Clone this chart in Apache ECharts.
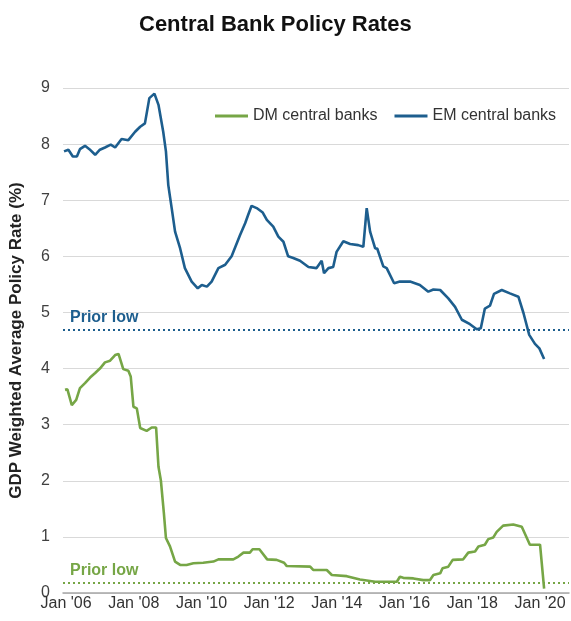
<!DOCTYPE html>
<html>
<head>
<meta charset="utf-8">
<script src="https://cdn.jsdelivr.net/npm/echarts@6/dist/echarts.min.js"></script>
<style>
html,body{margin:0;padding:0;background:#fff;}
#chart{width:571px;height:621px;}
</style>
</head>
<body>
<div id="chart"></div>
<script>
// Decimal-year positions and values
const emX = [2005.94,2006.07,2006.20,2006.32,2006.41,2006.56,2006.69,2006.86,2007.00,2007.15,2007.32,2007.45,2007.64,2007.84,2008.04,2008.19,2008.33,2008.46,2008.61,2008.73,2008.87,2008.95,2009.02,2009.12,2009.22,2009.37,2009.51,2009.71,2009.89,2010.01,2010.16,2010.30,2010.50,2010.70,2010.89,2011.14,2011.29,2011.38,2011.48,2011.63,2011.81,2011.93,2012.12,2012.27,2012.42,2012.56,2012.71,2012.91,2013.16,2013.40,2013.55,2013.62,2013.75,2013.89,2013.99,2014.19,2014.39,2014.63,2014.78,2014.88,2014.98,2015.13,2015.19,2015.37,2015.47,2015.69,2015.86,2016.16,2016.45,2016.70,2016.85,2017.05,2017.29,2017.49,2017.69,2017.93,2018.13,2018.25,2018.37,2018.52,2018.64,2018.87,2019.11,2019.36,2019.51,2019.68,2019.85,2019.98,2020.12];
const emY = [7.87,7.90,7.78,7.78,7.91,7.97,7.91,7.81,7.90,7.94,7.99,7.94,8.09,8.07,8.22,8.31,8.37,8.82,8.90,8.70,8.22,7.87,7.27,6.86,6.44,6.14,5.79,5.55,5.43,5.49,5.46,5.55,5.79,5.85,6.00,6.38,6.59,6.74,6.90,6.86,6.78,6.65,6.53,6.35,6.26,6.00,5.97,5.92,5.81,5.79,5.92,5.70,5.79,5.81,6.08,6.27,6.22,6.20,6.17,6.86,6.44,6.14,6.14,5.82,5.79,5.52,5.55,5.55,5.49,5.37,5.41,5.40,5.25,5.10,4.87,4.79,4.70,4.72,5.07,5.12,5.33,5.40,5.34,5.28,4.99,4.60,4.44,4.36,4.17];

const dmX = [2005.97,2006.04,2006.17,2006.30,2006.41,2006.56,2006.71,2006.86,2007.00,2007.15,2007.30,2007.45,2007.55,2007.69,2007.84,2007.91,2007.99,2008.09,2008.19,2008.38,2008.53,2008.66,2008.73,2008.80,2008.89,2008.95,2009.07,2009.22,2009.37,2009.56,2009.76,2010.05,2010.35,2010.50,2010.94,2011.09,2011.24,2011.43,2011.51,2011.71,2011.94,2012.22,2012.44,2012.52,2013.21,2013.30,2013.70,2013.85,2014.29,2014.68,2015.13,2015.77,2015.86,2015.96,2016.26,2016.55,2016.75,2016.85,2017.05,2017.12,2017.29,2017.42,2017.73,2017.88,2018.08,2018.18,2018.37,2018.47,2018.62,2018.72,2018.91,2019.21,2019.46,2019.70,2020.00,2020.05,2020.12];
const dmY = [3.62,3.63,3.35,3.44,3.65,3.74,3.84,3.92,4.00,4.11,4.14,4.24,4.26,3.99,3.96,3.86,3.32,3.29,2.94,2.89,2.95,2.95,2.25,2.01,1.42,0.98,0.83,0.56,0.50,0.50,0.53,0.54,0.56,0.60,0.60,0.65,0.72,0.72,0.78,0.78,0.60,0.59,0.54,0.48,0.47,0.41,0.41,0.32,0.30,0.24,0.20,0.20,0.29,0.27,0.26,0.23,0.23,0.32,0.35,0.44,0.47,0.59,0.60,0.72,0.74,0.83,0.86,0.96,0.99,1.09,1.20,1.22,1.18,0.86,0.86,0.83,0.08];

const priorLowEM = 4.70;
const priorLowDM = 0.18;
const xTickYears = [2006,2008,2010,2012,2014,2016,2018,2020];
const yTicks = [0,1,2,3,4,5,6,7,8,9];

const DM_COLOR = '#76a646';
const EM_COLOR = '#1d5e8e';
const FONT = "'Liberation Sans', Arial, sans-serif";

const zip = (xs, ys) => xs.map((x, i) => [x, ys[i]]);

const chart = echarts.init(document.getElementById('chart'), null, {renderer: 'canvas'});
chart.setOption({
  animation: false,
  backgroundColor: '#fff',
  textStyle: {fontFamily: FONT},
  title: {
    text: 'Central Bank Policy Rates',
    left: 134,
    top: 9,
    textStyle: {fontSize: 22, fontWeight: 'bold', color: '#111', fontFamily: FONT}
  },
  legend: {
    left: 210,
    top: 103,
    icon: 'rect',
    itemWidth: 33,
    itemHeight: 3,
    itemGap: 17,
    textStyle: {fontSize: 16, color: '#333', fontFamily: FONT},
    data: ['DM central banks', 'EM central banks']
  },
  grid: {left: 63, right: 2, top: 88, bottom: 28, containLabel: false},
  xAxis: {
    type: 'value',
    min: 2005.91,
    max: 2020.855,
    axisLine: {show: true, lineStyle: {color: '#a6a6a6', width: 1.5}},
    axisTick: {show: false},
    splitLine: {show: false},
    axisLabel: {
      customValues: xTickYears,
      formatter: v => "Jan '" + String(Math.round(v)).slice(2),
      fontSize: 16,
      color: '#333',
      margin: 3,
      fontFamily: FONT
    }
  },
  yAxis: {
    type: 'value',
    min: yTicks[0],
    max: yTicks[yTicks.length - 1],
    interval: 1,
    name: 'GDP Weighted Average Policy Rate (%)',
    nameLocation: 'middle',
    nameGap: 38,
    nameTextStyle: {fontSize: 17, fontWeight: 'bold', color: '#222', fontFamily: FONT},
    axisLine: {show: false},
    axisTick: {show: false},
    splitLine: {lineStyle: {color: '#d9d9d9', width: 1.2}},
    axisLabel: {fontSize: 16, color: '#404040', margin: 13, fontFamily: FONT}
  },
  series: [
    {
      name: 'DM central banks',
      type: 'line',
      data: zip(dmX, dmY),
      showSymbol: false,
      symbol: 'none',
      color: DM_COLOR,
      lineStyle: {color: DM_COLOR, width: 2.6},
      z: 3,
      markLine: {
        silent: true,
        symbol: 'none',
        lineStyle: {color: DM_COLOR, type: [2, 3], width: 2},
        label: {
          show: true,
          position: 'insideStartTop',
          formatter: 'Prior low',
          color: DM_COLOR,
          fontSize: 16,
          fontWeight: 'bold',
          distance: [7, 4],
          fontFamily: FONT
        },
        data: [{yAxis: priorLowDM}]
      }
    },
    {
      name: 'EM central banks',
      type: 'line',
      data: zip(emX, emY),
      showSymbol: false,
      symbol: 'none',
      color: EM_COLOR,
      lineStyle: {color: EM_COLOR, width: 2.6},
      z: 3,
      markLine: {
        silent: true,
        symbol: 'none',
        lineStyle: {color: EM_COLOR, type: [2, 3], width: 2},
        label: {
          show: true,
          position: 'insideStartTop',
          formatter: 'Prior low',
          color: EM_COLOR,
          fontSize: 16,
          fontWeight: 'bold',
          distance: [7, 4],
          fontFamily: FONT
        },
        data: [{yAxis: priorLowEM}]
      }
    }
  ]
});
</script>
</body>
</html>
